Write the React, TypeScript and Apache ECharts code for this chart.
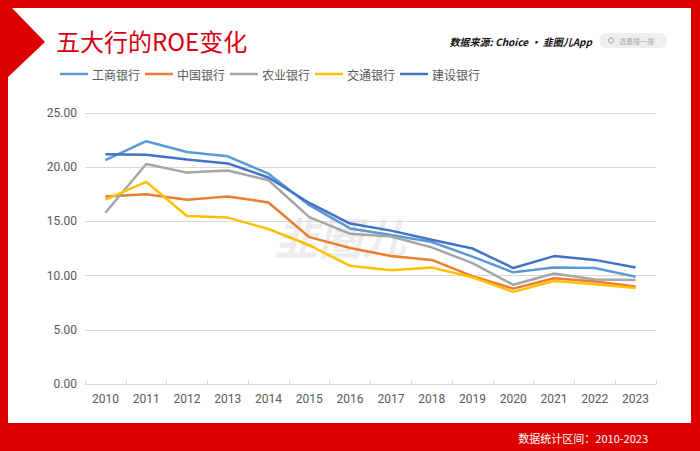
import React, { useEffect, useRef } from "react";
import * as echarts from "echarts";

const years = ["2010","2011","2012","2013","2014","2015","2016","2017","2018","2019","2020","2021","2022","2023"];
const icbc = [20.65, 22.4, 21.4, 21.0, 19.4, 16.5, 14.35, 13.75, 13.1, 11.75, 10.3, 10.75, 10.7, 9.9];
const boc = [17.3, 17.5, 17.0, 17.3, 16.75, 13.55, 12.55, 11.8, 11.45, 9.95, 8.8, 9.75, 9.45, 9.0];
const abc = [15.8, 20.3, 19.5, 19.7, 18.8, 15.4, 13.85, 13.6, 12.6, 11.15, 9.15, 10.2, 9.65, 9.6];
const bocom = [17.0, 18.65, 15.5, 15.35, 14.3, 12.8, 10.9, 10.5, 10.75, 9.85, 8.5, 9.5, 9.2, 8.85];
const ccb = [21.2, 21.15, 20.7, 20.35, 19.05, 16.7, 14.8, 14.15, 13.3, 12.5, 10.7, 11.8, 11.45, 10.75];
const seriesNames = ["工商银行", "中国银行", "农业银行", "交通银行", "建设银行"];
const seriesColors = ["#5B9BD5", "#ED7D31", "#A5A5A5", "#FFC000", "#4472C4"];
const seriesData = [icbc, boc, abc, bocom, ccb];

const FONT = "'Noto Sans CJK SC', 'Noto Sans', sans-serif";

export default function App() {
  const ref = useRef<HTMLDivElement>(null);
  useEffect(() => {
    document.body.style.margin = "0";
    const chart = echarts.init(ref.current!, null, { renderer: "svg" });
    chart.setOption({
      animation: false,
      backgroundColor: "#DC0000",
      textStyle: { fontFamily: FONT },
      graphic: [
        { type: "rect", z: -10, shape: { x: 8, y: 8, width: 683, height: 415 }, style: { fill: "#ffffff" } },
        { type: "polygon", z: -9, shape: { points: [[0, 8], [12, 8], [45, 42], [8, 77], [0, 77]] }, style: { fill: "#DC0000" } },
        { type: "text", x: 56, y: 40, style: { text: "五大行的ROE变化", fill: "#D7000F", font: `24px ${FONT}`, verticalAlign: "middle" } },
        { type: "text", x: 592, y: 41, style: { text: "数据来源: Choice · 韭圈儿App", fill: "#111111", font: `italic bold 10px ${FONT}`, align: "right", verticalAlign: "middle" } },
        { type: "rect", shape: { x: 599, y: 33, width: 68, height: 15, r: 7.5 }, style: { fill: "#EEEEEE" } },
        { type: "circle", shape: { cx: 611, cy: 40.5, r: 2.5 }, style: { fill: "none", stroke: "#999999", lineWidth: 1 } },
        { type: "text", x: 619, y: 41, style: { text: "选基搜一搜", fill: "#aaaaaa", font: `7px ${FONT}`, verticalAlign: "middle" } },
        { type: "text", z: -5, x: 340, y: 236, style: { text: "韭圈儿", fill: "rgba(190,190,190,0.28)", font: `italic bold 44px ${FONT}`, align: "center", verticalAlign: "middle" } },
        { type: "text", x: 648, y: 438, style: { text: "数据统计区间：2010-2023", fill: "#ffffff", font: `11px ${FONT}`, align: "right", verticalAlign: "middle" } },
      ],
      legend: {
        left: 60,
        top: 68,
        padding: 0,
        icon: "rect",
        itemWidth: 28,
        itemHeight: 2.5,
        itemGap: 5,
        textStyle: { fontSize: 12, color: "#595959", fontFamily: FONT, padding: [0, 0, 0, -1] },
        data: seriesNames,
      },
      grid: { left: 85, right: 44, top: 113, bottom: 67, containLabel: false },
      xAxis: {
        type: "category",
        data: years,
        boundaryGap: true,
        axisLine: { lineStyle: { color: "#D9D9D9", width: 1 } },
        axisTick: { show: true, inside: true, length: 4, lineStyle: { color: "#D9D9D9" } },
        axisLabel: { color: "#595959", fontSize: 12, margin: 9, fontFamily: "Roboto, sans-serif" },
      },
      yAxis: {
        type: "value",
        min: 0,
        max: 25,
        interval: 5,
        axisLine: { show: false },
        axisTick: { show: false },
        splitLine: { lineStyle: { color: "#D9D9D9", width: 1 } },
        axisLabel: { color: "#595959", fontSize: 12, margin: 8, fontFamily: "Roboto, sans-serif", formatter: (v: number) => v.toFixed(2) },
      },
      series: seriesNames.map((name, i) => ({
        name,
        type: "line",
        data: seriesData[i],
        symbol: "none",
        lineStyle: { color: seriesColors[i], width: 2.5 },
        itemStyle: { color: seriesColors[i] },
      })),
    });
    return () => chart.dispose();
  }, []);
  return <div ref={ref} style={{ position: "absolute", left: 0, top: 0, width: 700, height: 451 }} />;
}
